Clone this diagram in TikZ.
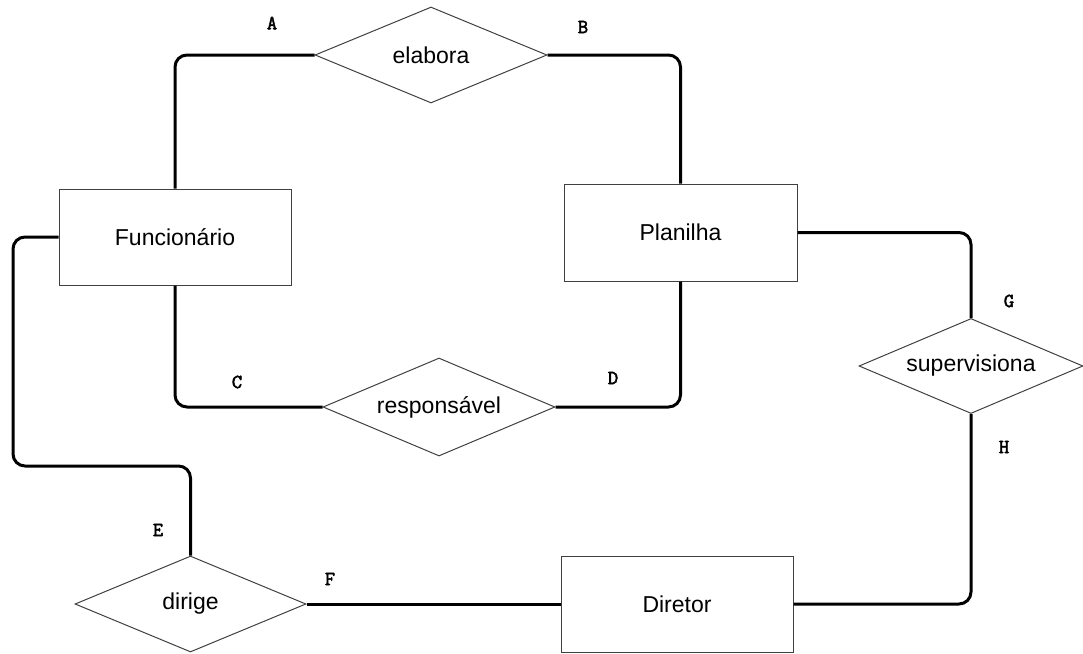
\documentclass[tikz,border=0pt]{standalone}
\usepackage{fontspec}
\setmainfont{Liberation Sans}
\newfontfamily\lblfont[FakeBold=2.5]{Latin Modern Mono}
\usetikzlibrary{shapes.geometric}
\begin{document}
\begin{tikzpicture}[x=1pt,y=-1pt,
  entity/.style={draw=black!75, line width=1pt, rectangle, minimum width=232pt, minimum height=96pt, inner sep=0pt, font=\fontsize{23}{27}\selectfont},
  relation/.style={draw=black!75, line width=1pt, diamond, aspect=2.4, minimum width=232pt, minimum height=96pt, inner sep=0pt, font=\fontsize{23}{27}\selectfont},
  link/.style={line width=3pt, rounded corners=12pt},
  lbl/.style={font=\lblfont\fontsize{20}{22}\selectfont, inner sep=0pt}]
\useasboundingbox (0,0) rectangle (1083,653);
\node[entity] (func) at (175,237) {Funcionário};
\node[entity, minimum width=233pt, minimum height=97pt] (plan) at (680.5,232.5) {Planilha};
\node[entity] (dir) at (677,604) {Diretor};
\node[relation] (elab) at (431,55) {elabora};
\node[relation, minimum height=98pt] (resp) at (439,407) {responsável};
\node[relation, minimum width=224pt, minimum height=95pt] (sup) at (971,366) {supervisiona};
\node[relation, minimum width=231pt] (dirige) at (190.5,604) {dirige};
\coordinate (lt) at (13,466);
\draw[link] (func.north) |- (elab.west);
\draw[link] (elab.east) -| (plan.north);
\draw[link] (func.south) |- (resp.west);
\draw[link] (resp.east) -| (plan.south);
\draw[link] (func.west) -| (lt) -| (dirige.north);
\draw[link] (dirige.east) -- (dir.west);
\draw[link] (dir.east) -| (sup.south);
\draw[link] (plan.east) -| (sup.north);
\node[lbl] (la) at (272,23) {A};
\node[lbl] (lb) at (583,27) {B};
\node[lbl] (lc) at (237,382) {C};
\node[lbl] (ld) at (613,378) {D};
\node[lbl] (le) at (158,530) {E};
\node[lbl] (lf) at (330,579) {F};
\node[lbl] (lg) at (1009,301) {G};
\node[lbl] (lh) at (1004,447) {H};
\end{tikzpicture}
\end{document}
